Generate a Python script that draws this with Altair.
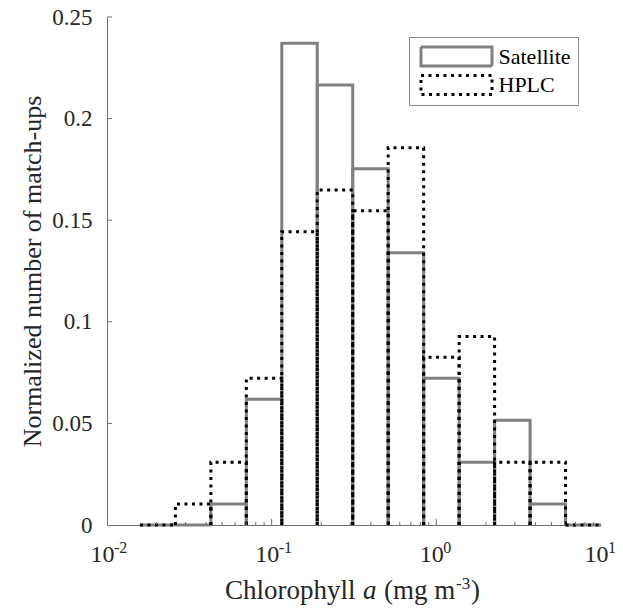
import altair as alt
import pandas as pd

# Bin edges (mg m^-3) (equal steps in log10 from ~0.0158 to 10)
edges = [0.01585, 0.02602, 0.04273, 0.07017, 0.1152, 0.1891, 0.3106,
         0.5100, 0.8377, 1.3754, 2.2587, 3.709, 6.090, 10.0]

# Normalized number of match-ups per bin
satellite = [0.0, 0.0, 0.0103, 0.0619, 0.2371, 0.2165, 0.1753,
             0.1340, 0.0722, 0.0309, 0.0515, 0.0103, 0.0]
hplc = [0.0, 0.0103, 0.0309, 0.0722, 0.1443, 0.1649, 0.1546,
        0.1856, 0.0825, 0.0928, 0.0309, 0.0309, 0.0]

series_names = ["Satellite", "HPLC"]

# Axis tick values and labels
x_major = [0.01, 0.1, 1, 10]
x_exponents = ["-2", "-1", "0", "1"]
x_minor = [0.02, 0.03, 0.04, 0.05, 0.06, 0.07, 0.08, 0.09,
           0.2, 0.3, 0.4, 0.5, 0.6, 0.7, 0.8, 0.9,
           2, 3, 4, 5, 6, 7, 8, 9]
y_ticks = [0, 0.05, 0.1, 0.15, 0.2, 0.25]

# Outline of every bar (left side, top, right side; base line only for empty bins)
rows = []
for s_idx, (name, vals) in enumerate(zip(series_names, [satellite, hplc])):
    for i, v in enumerate(vals):
        lo, hi = edges[i], edges[i + 1]
        corners = [(lo, 0.0), (lo, v), (hi, v), (hi, 0.0)]
        for k, (cx, cy) in enumerate(corners):
            rows.append({"series": name, "bar": f"{name}-{i}", "k": s_idx * 1000 + k,
                         "x": cx, "y": cy})
df = pd.DataFrame(rows)

W, H = 494, 508
FONT = "Liberation Serif"
AX = "#6e6e6e"
TXT = "#262626"

xscale = alt.Scale(type="log", domain=[0.01, 10], nice=False)
yscale = alt.Scale(domain=[0, 0.25], nice=False, zero=False)

legend = alt.Legend(title=None, orient="none", legendX=302, legendY=20,
                    symbolType="M-5.917,-1.583H5.917V1.583H-5.917Z",
                    symbolSize=144, symbolStrokeWidth=3,
                    symbolOffset=29.5, labelOffset=31,
                    labelFont=FONT, labelFontSize=22, labelColor="#000000",
                    strokeColor="#8a8a8a", fillColor="white",
                    padding=7, rowPadding=3.5, clipHeight=25)

hist = alt.Chart(df).mark_line(strokeWidth=3, strokeCap="butt", strokeJoin="miter").encode(
    x=alt.X("x:Q", scale=xscale,
            axis=alt.Axis(values=x_major, labelExpr="'10'", title=None,
                          tickSize=0, labelPadding=17, labelOffset=-5,
                          labelFontSize=24, labelFlush=False)),
    y=alt.Y("y:Q", scale=yscale,
            axis=alt.Axis(values=y_ticks, format="~g",
                          title="Normalized number of match-ups",
                          tickSize=0, labelPadding=15, titlePadding=6,
                          labelFlush=False)),
    detail="bar:N",
    order="k:Q",
    color=alt.Color("series:N",
                    scale=alt.Scale(domain=series_names, range=["#808080", "#000000"]),
                    legend=legend),
    strokeDash=alt.StrokeDash("series:N",
                              scale=alt.Scale(domain=series_names, range=[[1, 0], [3, 4.5]]),
                              legend=legend),
)

xmin_df = pd.DataFrame({"t": x_minor})
xmaj_df = pd.DataFrame({"t": [0.1, 1]})
yt_df = pd.DataFrame({"t": [0.05, 0.1, 0.15, 0.2, 0.25]})
exp_df = pd.DataFrame({"t": x_major, "e": x_exponents})

xminor_rules = alt.Chart(xmin_df).mark_rule(color=AX, strokeWidth=1).encode(
    x=alt.X("t:Q", scale=xscale, axis=alt.Axis(title=None)),
    y=alt.value(H), y2=alt.value(H - 3))
xmajor_rules = alt.Chart(xmaj_df).mark_rule(color=AX, strokeWidth=1).encode(
    x=alt.X("t:Q", scale=xscale, axis=alt.Axis(title=None)),
    y=alt.value(H), y2=alt.value(H - 6))
y_rules = alt.Chart(yt_df).mark_rule(color=AX, strokeWidth=1).encode(
    y=alt.Y("t:Q", scale=yscale, axis=alt.Axis(title="Normalized number of match-ups")),
    x=alt.value(0), x2=alt.value(5))

# superscript exponents of the x tick labels
exp_text = alt.Chart(exp_df).mark_text(
    font=FONT, fontSize=16, color=TXT, align="left", baseline="alphabetic", dx=7
).encode(
    x=alt.X("t:Q", scale=xscale, axis=alt.Axis(title=None)),
    y=alt.value(H + 28),
    text="e:N",
)

# x-axis title, built from pieces so that "a" is italic and "-3" a superscript
def title_piece(txt, px, py, size=27, style="normal"):
    return alt.Chart(pd.DataFrame({"s": [txt]})).mark_text(
        font=FONT, fontSize=size, fontStyle=style, color=TXT,
        align="left", baseline="alphabetic"
    ).encode(x=alt.value(px), y=alt.value(py), text="s:N")

TB = H + 74
xtitle = [
    title_piece("Chlorophyll", 118, TB),
    title_piece("a", 256, TB, style="italic"),
    title_piece("(mg m", 277, TB),
    title_piece("-3", 349, TB - 10, size=17),
    title_piece(")", 364, TB),
]

chart = alt.layer(hist, xminor_rules, xmajor_rules, y_rules, exp_text, *xtitle).properties(
    width=W, height=H,
    autosize=alt.AutoSizeParams(type="none"),
    padding={"left": 99, "top": 9, "right": 14, "bottom": 80},
).configure_view(stroke=None).configure_axis(
    grid=False, domainColor=AX, domainWidth=1,
    labelFont=FONT, labelFontSize=23, labelColor=TXT,
    titleFont=FONT, titleFontSize=26, titleFontWeight="normal", titleColor=TXT,
)

chart.save("out.html", embed_options={"renderer": "svg", "actions": False})
